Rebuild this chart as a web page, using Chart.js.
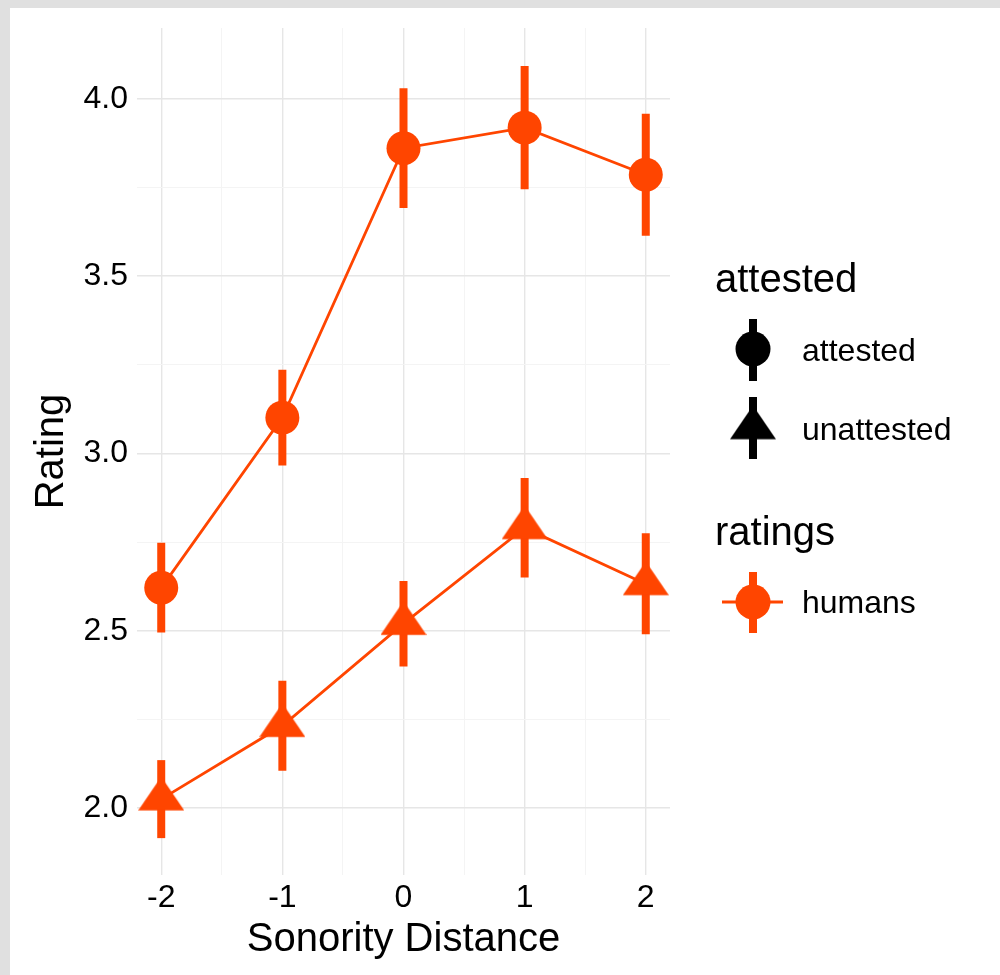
<!DOCTYPE html>
<html>
<head>
<meta charset="utf-8">
<script src="https://cdn.jsdelivr.net/npm/chart.js@4.4.1/dist/chart.umd.min.js"></script>
<style>
  html, body { margin: 0; padding: 0; background: #e0e0e0; }
  #wrap { position: absolute; left: 10px; top: 8px; width: 990px; height: 967px; background: #fff; }
</style>
</head>
<body>
<div id="wrap"><canvas id="ratingChart"></canvas></div>
<script>
const distances = [-2, -1, 0, 1, 2];
const attestedMean = [2.621, 3.101, 3.861, 3.919, 3.786];
const attestedLow = [2.495, 2.966, 3.692, 3.745, 3.614];
const attestedHigh = [2.748, 3.236, 4.030, 4.093, 3.958];
const unattestedMean = [2.025, 2.232, 2.520, 2.790, 2.632];
const unattestedLow = [1.915, 2.105, 2.399, 2.650, 2.490];
const unattestedHigh = [2.135, 2.359, 2.640, 2.931, 2.775];
const xTicks = [-2, -1.5, -1, -0.5, 0, 0.5, 1, 1.5, 2];
const yTicks = [2.0, 2.25, 2.5, 2.75, 3.0, 3.25, 3.5, 3.75, 4.0];

const ORANGE = '#ff4500';
const FONT = "'Liberation Sans', Arial, Helvetica, sans-serif";

// triangle like R's pch 17: point sits 2/3 of the way down from the apex
function makeTriangle(color) {
    const c = document.createElement('canvas');
    c.width = 46; c.height = 45;
    const g = c.getContext('2d');
    g.fillStyle = color;
    g.beginPath();
    g.moveTo(23, 0);
    g.lineTo(46, 33.8);
    g.lineTo(0, 33.8);
    g.closePath();
    g.fill();
    return c;
}
const triOrange = makeTriangle(ORANGE);
const triBlack = makeTriangle('#000');

const toPoints = (ys) => distances.map((x, i) => ({ x: x, y: ys[i] }));

const errorBars = {
    id: 'errorBars',
    beforeDatasetsDraw(chart) {
        const { ctx, scales: { x, y } } = chart;
        const sets = [[attestedLow, attestedHigh], [unattestedLow, unattestedHigh]];
        ctx.save();
        ctx.strokeStyle = ORANGE;
        ctx.lineWidth = 8;
        ctx.lineCap = 'butt';
        sets.forEach(([lo, hi]) => {
            distances.forEach((d, i) => {
                const px = x.getPixelForValue(d);
                ctx.beginPath();
                ctx.moveTo(px, y.getPixelForValue(lo[i]));
                ctx.lineTo(px, y.getPixelForValue(hi[i]));
                ctx.stroke();
            });
        });
        ctx.restore();
    }
};

const sideLegend = {
    id: 'sideLegend',
    afterDraw(chart) {
        const ctx = chart.ctx;
        ctx.save();
        ctx.fillStyle = '#000';
        ctx.textBaseline = 'alphabetic';
        ctx.textAlign = 'left';
        ctx.font = '40px ' + FONT;
        ctx.fillText('attested', 705, 284);
        ctx.fillText('ratings', 705, 537);
        ctx.font = '32px ' + FONT;
        ctx.fillText('attested', 792, 353);
        ctx.fillText('unattested', 792, 432);
        ctx.fillText('humans', 792, 605);

        ctx.lineCap = 'butt';
        // attested key
        ctx.strokeStyle = '#000';
        ctx.lineWidth = 8;
        ctx.beginPath(); ctx.moveTo(743, 311); ctx.lineTo(743, 373); ctx.stroke();
        ctx.beginPath(); ctx.arc(743, 341, 17.5, 0, Math.PI * 2); ctx.fill();
        // unattested key
        ctx.beginPath(); ctx.moveTo(743, 389); ctx.lineTo(743, 451); ctx.stroke();
        ctx.drawImage(triBlack, 743 - 23, 420 - 22.5);
        // humans key
        ctx.strokeStyle = ORANGE;
        ctx.fillStyle = ORANGE;
        ctx.lineWidth = 3;
        ctx.beginPath(); ctx.moveTo(712, 594); ctx.lineTo(773, 594); ctx.stroke();
        ctx.lineWidth = 8;
        ctx.beginPath(); ctx.moveTo(743, 564); ctx.lineTo(743, 625); ctx.stroke();
        ctx.beginPath(); ctx.arc(743, 594, 17.5, 0, Math.PI * 2); ctx.fill();
        ctx.restore();
    }
};

const isMajorX = (v) => Number.isInteger(v);
const isMajorY = (v) => Math.abs(v * 2 - Math.round(v * 2)) < 1e-6;

new Chart(document.getElementById('ratingChart'), {
    type: 'scatter',
    data: {
        datasets: [
            {
                label: 'attested',
                data: toPoints(attestedMean),
                showLine: true,
                borderColor: ORANGE,
                backgroundColor: ORANGE,
                borderWidth: 2.8,
                pointStyle: 'circle',
                pointRadius: 17,
                pointBorderWidth: 0
            },
            {
                label: 'unattested',
                data: toPoints(unattestedMean),
                showLine: true,
                borderColor: ORANGE,
                backgroundColor: ORANGE,
                borderWidth: 2.8,
                pointStyle: triOrange,
                pointRadius: 20,
                pointBorderWidth: 0
            }
        ]
    },
    options: {
        responsive: true,
        maintainAspectRatio: false,
        animation: false,
        events: [],
        layout: { padding: { top: 20, right: 330, left: 0, bottom: 0 } },
        plugins: {
            legend: { display: false },
            tooltip: { enabled: false }
        },
        scales: {
            x: {
                type: 'linear',
                min: -2.2,
                max: 2.2,
                afterBuildTicks: (s) => { s.ticks = xTicks.map(v => ({ value: v })); },
                afterFit: (s) => { s.height = 100; s.paddingLeft = 0; s.paddingRight = 0; },
                border: { display: false },
                grid: {
                    drawTicks: false,
                    color: (c) => isMajorX(c.tick.value) ? '#e6e6e6' : '#f4f4f4',
                    lineWidth: (c) => isMajorX(c.tick.value) ? 1.4 : 1
                },
                ticks: {
                    padding: 7,
                    color: '#000',
                    font: { family: FONT, size: 32, lineHeight: 1 },
                    maxRotation: 0,
                    autoSkip: false,
                    callback: (v) => isMajorX(v) ? String(v) : ''
                },
                title: {
                    display: true,
                    text: 'Sonority Distance',
                    color: '#000',
                    font: { family: FONT, size: 40, lineHeight: 1 },
                    padding: { top: 0, bottom: 15 }
                }
            },
            y: {
                type: 'linear',
                min: 1.811,
                max: 4.2,
                afterBuildTicks: (s) => { s.ticks = yTicks.map(v => ({ value: v })); },
                afterFit: (s) => { s.width = 127; s.paddingTop = 0; s.paddingBottom = 0; },
                border: { display: false },
                grid: {
                    drawTicks: false,
                    color: (c) => isMajorY(c.tick.value) ? '#e6e6e6' : '#f4f4f4',
                    lineWidth: (c) => isMajorY(c.tick.value) ? 1.4 : 1
                },
                ticks: {
                    padding: 9,
                    color: '#000',
                    font: { family: FONT, size: 32, lineHeight: 1 },
                    autoSkip: false,
                    callback: (v) => isMajorY(v) ? v.toFixed(1) : ''
                },
                title: {
                    display: true,
                    text: 'Rating',
                    color: '#000',
                    font: { family: FONT, size: 40, lineHeight: 1 },
                    padding: { top: 22, bottom: 0 }
                }
            }
        }
    },
    plugins: [errorBars, sideLegend]
});
</script>
</body>
</html>
